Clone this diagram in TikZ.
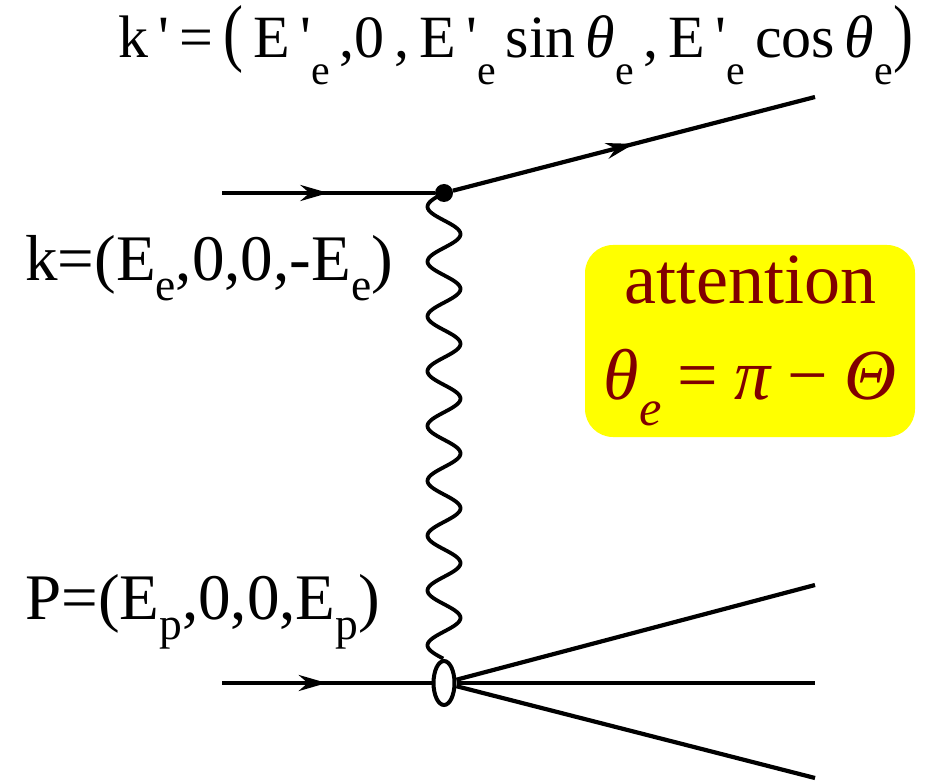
\documentclass[tikz,border=0pt]{standalone}
\usepackage{fontspec}
\setmainfont{Liberation Serif}
\usetikzlibrary{arrows.meta,calc,decorations.markings,shapes.geometric}
\definecolor{amarelo}{HTML}{FFFF00}
\definecolor{vinho}{HTML}{800000}
\newcommand{\lo}[2][-0.3em]{\raisebox{#1}{\scalebox{0.7}{#2}}}
\newcommand{\pr}{\,\textquotesingle}

\begin{document}
\begin{tikzpicture}[x=1pt, y=-1pt, >=Stealth,
    fermion/.style={line width=4.2pt, postaction={decorate},
      decoration={markings, mark=at position 0.5 with {\arrow{Stealth[length=28pt,width=16pt]}}}},
    jato/.style={line width=4.2pt},
    rotulo/.style={font=\fontsize{65}{70}\selectfont, inner sep=0pt}]
  \useasboundingbox (0,0) rectangle (944,783);
  % vertices
  \coordinate (eIn) at (222,193);
  \coordinate (eOut) at (815,97);
  \coordinate (pIn) at (222,683);
  \node[circle, fill, inner sep=0pt, minimum size=18pt] (vtx) at (444,193) {};
  \node[ellipse, draw, line width=4pt, fill=white, minimum width=21pt, minimum height=44pt, inner sep=0pt] (blob) at (444,683) {};
  \foreach \n/\y in {xA/585, xB/683, xC/778} \coordinate (\n) at (815,\y);
  % linhas
  \draw[fermion] (eIn) -- (vtx);
  \draw[fermion] (vtx) -- (eOut);
  \draw[fermion] (pIn) -- (blob);
  \foreach \n in {xA,xB,xC} \draw[jato] (blob) -- (\n);
  \draw[line width=3.8pt] let \p1=(vtx.center), \p2=(blob.north) in
    plot[variable=\t, domain=0:1, samples=300] ({\x1-16.5*sin(8.5*360*\t)}, {\y1+(\y2-\y1)*\t});
  % textos
  \node[rotulo, font=\fontsize{60}{66}\selectfont] (kout) at (516,45)
    {k\pr\,=\,\scalebox{1}[1.25]{(}\,E\pr\lo[-0.45em]{e}\,,0\,,\,E\pr\lo[-0.45em]{e}\,sin\,\textit{θ}\lo[-0.45em]{e}\,,\,E\pr\lo[-0.45em]{e}\,cos\,\textit{θ}\lo[-0.45em]{e}\scalebox{1}[1.25]{)}};
  \node[rotulo, anchor=west] (kin) at (25,268) {k=(E\lo{e},0,0,-E\lo{e})};
  \node[rotulo, anchor=west] (pin) at (25,612) {P=(E\lo{p},0,0,E\lo{p})};
  \node[fill=amarelo, rounded corners=28pt, minimum width=330pt, minimum height=192pt,
    text=vinho, align=center, font=\fontsize{72}{96}\selectfont] (aviso) at (750,341)
    {attention\\\textit{θ}\lo[-0.35em]{\textit{e}}\:=\:\textit{π}\:−\:\textit{Θ}};
\end{tikzpicture}
\end{document}
